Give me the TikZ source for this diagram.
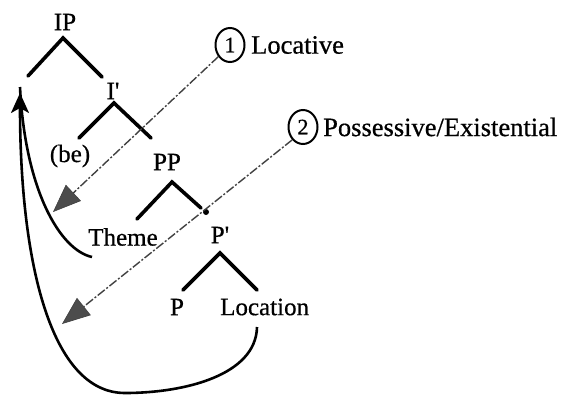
\documentclass[tikz,border=0pt]{standalone}
\usepackage{fontspec}
\setmainfont{Liberation Serif}
\newfontfamily\scanfont{Liberation Serif}[FakeBold=0.6]
\usetikzlibrary{arrows.meta,shapes.geometric}
\tikzset{
  lbl/.style={inner sep=0pt, font=\scanfont\fontsize{25}{25}\selectfont},
  biglbl/.style={inner sep=0pt, anchor=west, font=\scanfont\fontsize{26.5}{26.5}\selectfont},
  branch/.style={line width=3.6pt, line cap=round},
  move/.style={line width=2.6pt},
  dashline/.style={line width=1.4pt, black!75, dash pattern=on 9pt off 2pt on 2pt off 2pt,
    -{Triangle[length=28pt,width=22pt,fill=black!70,line width=0.6pt]}},
  num/.style={ellipse, draw, line width=2pt, inner sep=0pt, minimum width=29pt, minimum height=34pt,
    font=\scanfont\fontsize{22}{22}\selectfont}
}
\begin{document}
\begin{tikzpicture}[x=1pt,y=-1pt]
\path[use as bounding box] (0,0) rectangle (572,396);
% tree labels
\node[lbl] (IP) at (65,22) {IP};
\node[lbl] (Ib) at (113,91) {I\textquotesingle};
\node[lbl] (be) at (70,156) {(be)};
\node[lbl] (PP) at (167,162) {PP};
\node[lbl] (Theme) at (123,237) {Theme};
\node[lbl] (Pb) at (220,235) {P\textquotesingle};
\node[lbl] (P) at (177,307) {P};
\node[lbl,anchor=west] (Loc) at (220,307) {Location};
% branch points
\coordinate (IPa) at (63,38);  \coordinate (IPl) at (28,76);  \coordinate (IPr) at (102,77);
\coordinate (Ia) at (114,103); \coordinate (Il) at (79,138);  \coordinate (Ir) at (151,138);
\coordinate (PPa) at (172,182); \coordinate (PPl) at (137,219); \coordinate (PPr) at (201,208);
\coordinate (Pa) at (220,253); \coordinate (Pl) at (183,290); \coordinate (Pr) at (257,290);
\draw[branch] (IPl) -- (IPa) -- (IPr);
\draw[branch] (Il) -- (Ia) -- (Ir);
\draw[branch] (PPl) -- (PPa) -- (PPr);
\draw[branch] (Pl) -- (Pa) -- (Pr);
\node[circle, fill, inner sep=0pt, minimum size=6pt] (dot) at (206,212) {};
% numbered labels
\node[num] (c1) at (230,45) {1};
\node[biglbl] (Locative) at (251,45) {Locative};
\node[num] (c2) at (303,127) {2};
\node[biglbl] (Poss) at (323,127) {Possessive/Existential};
% dashed arrows
\coordinate (t1) at (53,212);
\coordinate (t2) at (62,324);
\draw[dashline] (c1.225) -- (t1);
\draw[dashline] (c2.230) -- (t2);
% movement arrows
\coordinate (tip) at (20,93);
\coordinate (thS) at (92,257);
\coordinate (locS) at (257,327);
\coordinate (bot) at (125,393);
\draw[move] (thS) .. controls (60,250) and (25,190) .. ([yshift=6pt]tip);
\draw[move, -{Stealth[length=20pt,width=18pt,inset=5pt]}] (locS) .. controls (256,375) and (185,393) .. (bot)
  .. controls (50,393) and (20,260) .. (tip);
\end{tikzpicture}
\end{document}
